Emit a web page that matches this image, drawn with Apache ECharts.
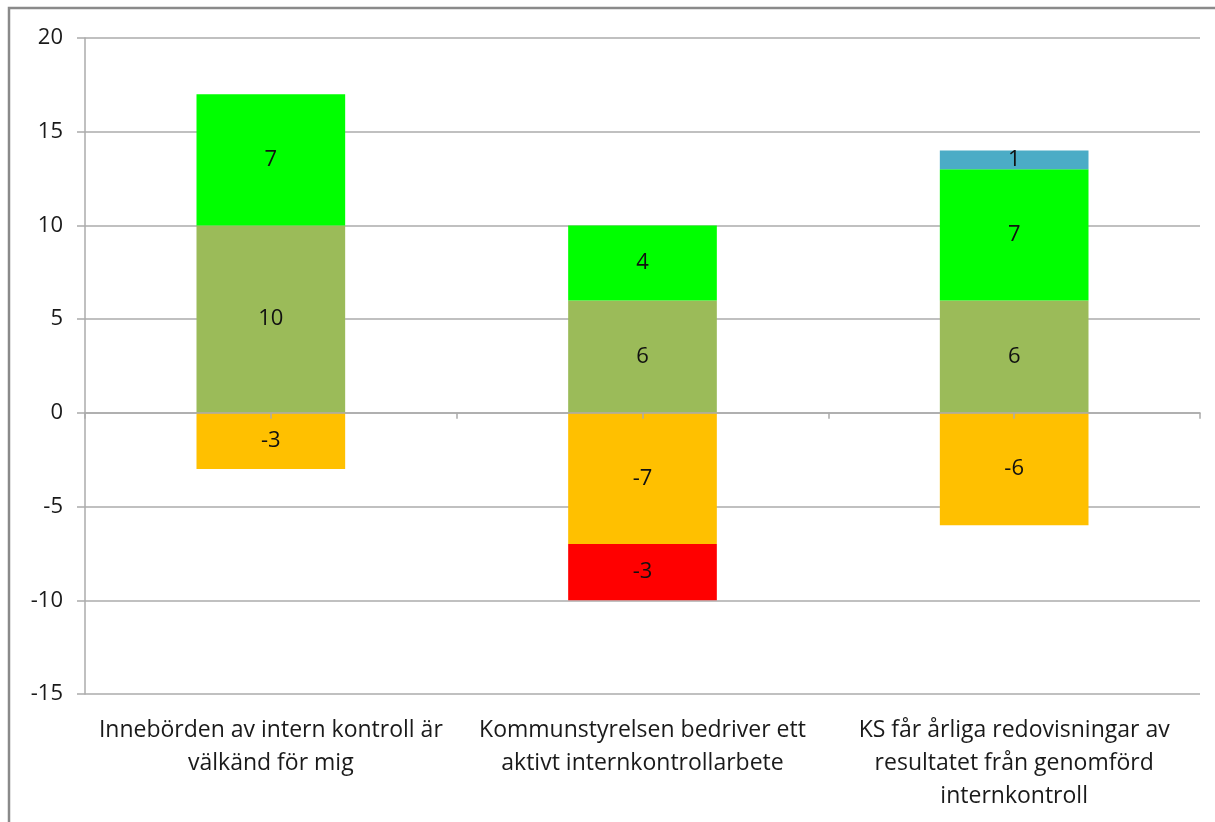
<!DOCTYPE html>
<html>
<head>
<meta charset="utf-8">
<script src="https://cdn.jsdelivr.net/npm/echarts@6/dist/echarts.min.js"></script>
<style>
  html, body { margin: 0; padding: 0; background: #fff; }
  #chart { width: 1215px; height: 822px; }
</style>
</head>
<body>
<div id="chart"></div>
<script>
// categories (survey statements)
const categories = [
  'Innebörden av intern kontroll är\nvälkänd för mig',
  'Kommunstyrelsen bedriver ett\naktivt internkontrollarbete',
  'KS får årliga redovisningar av\nresultatet från genomförd\ninternkontroll'
];
// half-category slots, only used for the ticks on the zero line
const tickSlots = ['', '', '', '', '', ''];

// answer counts per category, '-' = no answers
const lightGreenVals = [10, 6, 6];
const greenVals = [7, 4, 7];
const blueVals = ['-', '-', 1];
const orangeVals = [-3, -7, -6];
const redVals = ['-', -3, '-'];

const chart = echarts.init(document.getElementById('chart'));

const fontFam = '"Open Sans", sans-serif';
const gridColor = '#ababab';

function makeSeries(name, data, color) {
  return {
    name: name,
    type: 'bar',
    stack: 'total',
    xAxisIndex: 1,
    data: data,
    barWidth: '40%',
    itemStyle: { color: color },
    label: {
      show: true,
      position: 'inside',
      color: '#111',
      fontSize: 22,
      fontFamily: fontFam
    }
  };
}

chart.setOption({
  animation: false,
  graphic: [{
    type: 'rect',
    shape: { x: 9, y: 8, width: 1400, height: 1000 },
    style: { fill: 'none', stroke: '#8a8a8a', lineWidth: 2.5 },
    silent: true
  }],
  grid: { left: 85, right: 15, top: 38, bottom: 128 },
  xAxis: [
    {
      // the zero line with the small ticks
      type: 'category',
      data: tickSlots,
      position: 'bottom',
      z: 5,
      axisLine: { show: true, onZero: true, onZeroAxisIndex: 0, lineStyle: { color: gridColor, width: 1.5 } },
      axisTick: { show: true, length: 6, lineStyle: { color: gridColor, width: 1.5 } },
      axisLabel: { show: false }
    },
    {
      type: 'category',
      data: categories,
      position: 'bottom',
      axisLine: { show: false },
      axisTick: { show: false },
      axisLabel: {
        interval: 0,
        margin: 20,
        fontSize: 23,
        lineHeight: 33,
        color: '#1a1a1a',
        fontFamily: fontFam
      }
    }
  ],
  yAxis: {
    type: 'value',
    min: -15,
    max: 20,
    interval: 5,
    axisLine: { show: true, onZero: false, lineStyle: { color: gridColor, width: 1.5 } },
    axisTick: { show: true, length: 8, lineStyle: { color: gridColor, width: 1.5 } },
    splitLine: { show: true, lineStyle: { color: gridColor, width: 1.5 } },
    axisLabel: {
      margin: 22,
      fontSize: 22,
      color: '#1a1a1a',
      fontFamily: fontFam
    }
  },
  series: [
    makeSeries('Ganska väl', lightGreenVals, '#9bbb59'),
    makeSeries('Mycket väl', greenVals, '#00ff00'),
    makeSeries('Vet ej', blueVals, '#4bacc6'),
    makeSeries('Ganska dåligt', orangeVals, '#ffc000'),
    makeSeries('Mycket dåligt', redVals, '#ff0000')
  ]
});
</script>
</body>
</html>
